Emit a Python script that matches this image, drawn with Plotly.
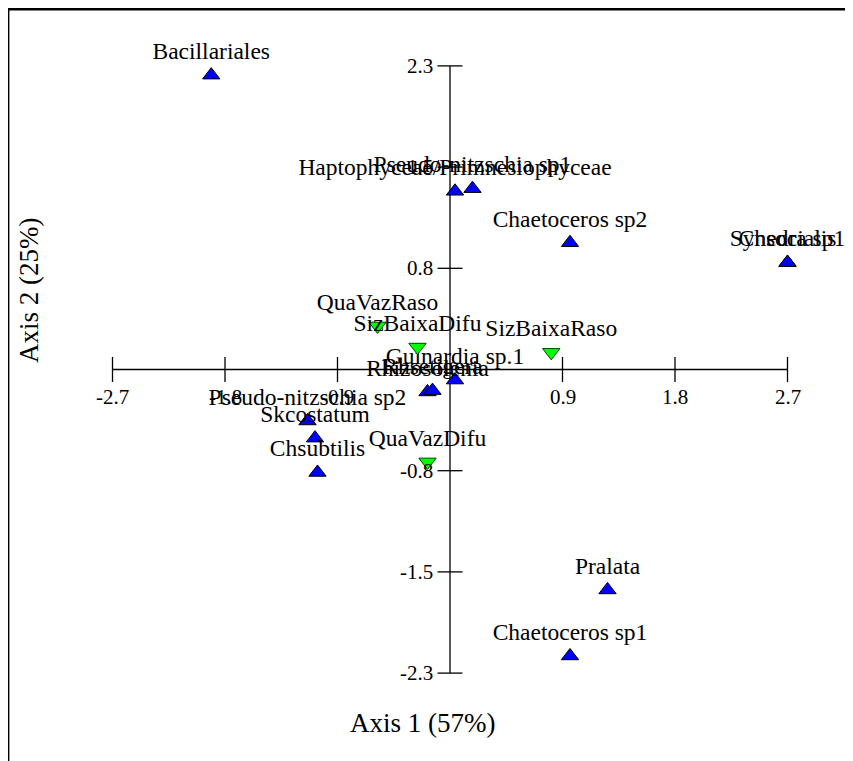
import plotly.graph_objects as go

# ---- data ----
species_names = ["Bacillariales", "Haptophyceae/Primnesiophyceae", "Pseudo-nitzschia sp1",
                 "Chaetoceros sp2", "Chsocialis", "Synedra sp1", "Guinardia sp.1",
                 "Rhizosolenia", "Rhsetigera", "Pseudo-nitzschia sp2", "Skcostatum",
                 "Chsubtilis", "Pralata", "Chaetoceros sp1"]
species_x = [-1.91, 0.04, 0.18, 0.96, 2.70, 2.70, 0.04, -0.18, -0.14, -1.14, -1.08, -1.06, 1.26, 0.96]
species_y = [2.23, 1.35, 1.37, 0.96, 0.81, 0.81, -0.08, -0.17, -0.16, -0.39, -0.52, -0.78, -1.67, -2.17]

site_names = ["QuaVazRaso", "SizBaixaDifu", "SizBaixaRaso", "QuaVazDifu"]
site_x = [-0.58, -0.26, 0.81, -0.18]
site_y = [0.33, 0.17, 0.13, -0.70]

x_tick_vals = [-2.7, -1.8, -0.9, 0.9, 1.8, 2.7]
x_tick_text = ["-2.7", "-1.8", "-0.9", "0.9", "1.8", "2.7"]
y_tick_vals = [2.3, 2.3 * 2 / 3, 2.3 / 3, -2.3 / 3, -2.3 * 2 / 3, -2.3]
y_tick_text = ["2.3", "1.5", "0.8", "-0.8", "-1.5", "-2.3"]

x_title = "Axis 1 (57%)"
y_title = "Axis 2 (25%)"

FONT = "Liberation Serif, Times New Roman, serif"
W, H = 853, 761
# pixel placement of the origin inside the figure (page has an 8px body margin)
X0PX, XSCALE = 442.0, 125.0
Y0PX, YSCALE = 361.5, 132.0
x_range = [(0 - X0PX) / XSCALE, (W - X0PX) / XSCALE]
y_range = [(Y0PX - H) / YSCALE, Y0PX / YSCALE]

LABEL_SIZE = 23.5

fig = go.Figure()

fig.add_trace(go.Scatter(
    x=species_x, y=species_y, mode="markers+text", text=species_names,
    textposition="top center",
    textfont=dict(family=FONT, size=LABEL_SIZE, color="black"),
    marker=dict(symbol="triangle-up", size=15, color="#0000FF",
                line=dict(color="black", width=1)),
    hoverinfo="text", showlegend=False, cliponaxis=False))

fig.add_trace(go.Scatter(
    x=site_x, y=site_y, mode="markers+text", text=site_names,
    textposition="top center",
    textfont=dict(family=FONT, size=LABEL_SIZE, color="black"),
    marker=dict(symbol="triangle-down", size=15, color="#00FF00",
                line=dict(color="#004400", width=1)),
    hoverinfo="text", showlegend=False, cliponaxis=False))

shapes = []
# axis lines
shapes.append(dict(type="line", xref="x", yref="y", x0=x_tick_vals[0], x1=x_tick_vals[-1],
                   y0=0, y1=0, line=dict(color="black", width=1.3), layer="below"))
shapes.append(dict(type="line", xref="x", yref="y", x0=0, x1=0,
                   y0=y_tick_vals[-1], y1=y_tick_vals[0], line=dict(color="black", width=1.3), layer="below"))
for v in x_tick_vals:
    shapes.append(dict(type="line", xref="x", yref="y", x0=v, x1=v,
                       ysizemode="pixel", yanchor=0, y0=-12.5, y1=12.5,
                       line=dict(color="black", width=1.3), layer="below"))
for v in y_tick_vals:
    shapes.append(dict(type="line", xref="x", yref="y", y0=v, y1=v,
                       xsizemode="pixel", xanchor=0, x0=-12.5, x1=12.5,
                       line=dict(color="black", width=1.3), layer="below"))
# frame (only top and left edges fall inside the window)
shapes.append(dict(type="line", xref="paper", yref="paper", x0=0, x1=1.0,
                   y0=1 - 1.2 / H, y1=1 - 1.2 / H, line=dict(color="black", width=2.5)))
shapes.append(dict(type="line", xref="paper", yref="paper", x0=0.6 / W, x1=0.6 / W,
                   y0=0, y1=1, line=dict(color="black", width=1.6)))

annotations = []
for v, t in zip(x_tick_vals, x_tick_text):
    annotations.append(dict(x=v, y=0, xref="x", yref="y", text=t, showarrow=False,
                            xanchor="center", yanchor="middle",
                            yshift=-27, font=dict(family=FONT, size=21, color="black")))
for v, t in zip(y_tick_vals, y_tick_text):
    annotations.append(dict(x=0, y=v, xref="x", yref="y", text=t, showarrow=False,
                            xanchor="right", yanchor="middle", xshift=-15,
                            font=dict(family=FONT, size=21, color="black")))
annotations.append(dict(x=414 / W, y=1 - 715 / H, xref="paper", yref="paper", text=x_title,
                        showarrow=False, xanchor="center", yanchor="middle",
                        font=dict(family=FONT, size=27, color="black")))
annotations.append(dict(x=21 / W, y=1 - 283 / H, xref="paper", yref="paper", text=y_title,
                        showarrow=False, textangle=-90, xanchor="center", yanchor="middle",
                        font=dict(family=FONT, size=27, color="black")))

fig.update_layout(
    width=W, height=H, margin=dict(l=0, r=0, t=0, b=0),
    paper_bgcolor="white", plot_bgcolor="white",
    xaxis=dict(range=x_range, visible=False, fixedrange=True),
    yaxis=dict(range=y_range, visible=False, fixedrange=True),
    shapes=shapes, annotations=annotations,
)

fig.write_html("out.html")
